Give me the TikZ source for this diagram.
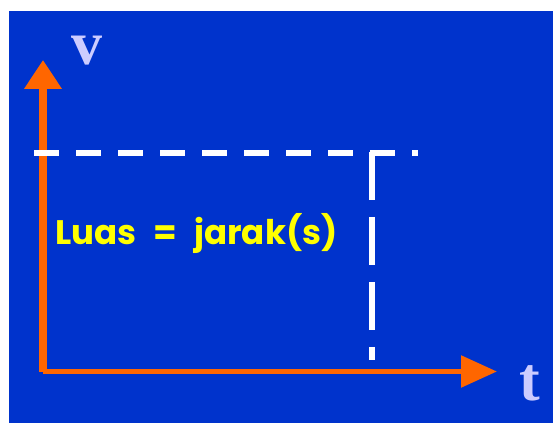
\documentclass[tikz,border=0pt]{standalone}
\usepackage{fontspec}
\setmainfont{Liberation Serif}
\newfontfamily\luasfont{Poppins}
\usetikzlibrary{arrows.meta}
\definecolor{slideblue}{HTML}{0033CC}
\definecolor{axisorange}{HTML}{FF6600}
\definecolor{labellilac}{HTML}{CCCCFF}
\definecolor{textyellow}{HTML}{FFFF00}

\begin{document}
\begin{tikzpicture}[
  x=1pt, y=-1pt,
  axis/.style={axisorange, line width=8pt},
  guide/.style={white, line width=6pt},
  axlabel/.style={labellilac, inner sep=0pt, anchor=base,
                  font=\fontsize{62}{62}\selectfont\bfseries},
  caption/.style={textyellow, inner sep=0pt, anchor=base,
                  font=\fontsize{34}{34}\selectfont\luasfont\bfseries},
]
\useasboundingbox (0,0) rectangle (557,427);
\fill[slideblue] (9,11) rectangle (553,423);

% Sumbu v dan t
\coordinate (origin) at (43,372);
\coordinate (vtip)   at (43,60);
\coordinate (tstart) at (43,371.5);
\coordinate (ttip)   at (497,371.5);
\draw[axis, -{Triangle[length=29pt, width=36pt]}] (origin) -- (vtip);
\draw[axis, line width=5.5pt, -{Triangle[length=36pt, width=31pt]}] (tstart) -- (ttip);

% Garis bantu putus-putus
\coordinate (hstart) at (34,153);
\coordinate (hend)   at (418,153);
\coordinate (vtop)   at (372,152);
\coordinate (vbot)   at (372,360);
\draw[guide, dash pattern=on 25pt off 17pt] (hstart) -- (hend);
\draw[guide, dash pattern=on 48pt off 17pt] (vtop) -- (vbot);

% Label
\node[axlabel] (vlabel) at (87,65) {v};
\node[axlabel] (tlabel) at (529.5,401) {t};
\node[caption] (luas) at (196.5,245) {Luas\hspace{17pt}=\hspace{17pt}jarak(s)};
\end{tikzpicture}
\end{document}
